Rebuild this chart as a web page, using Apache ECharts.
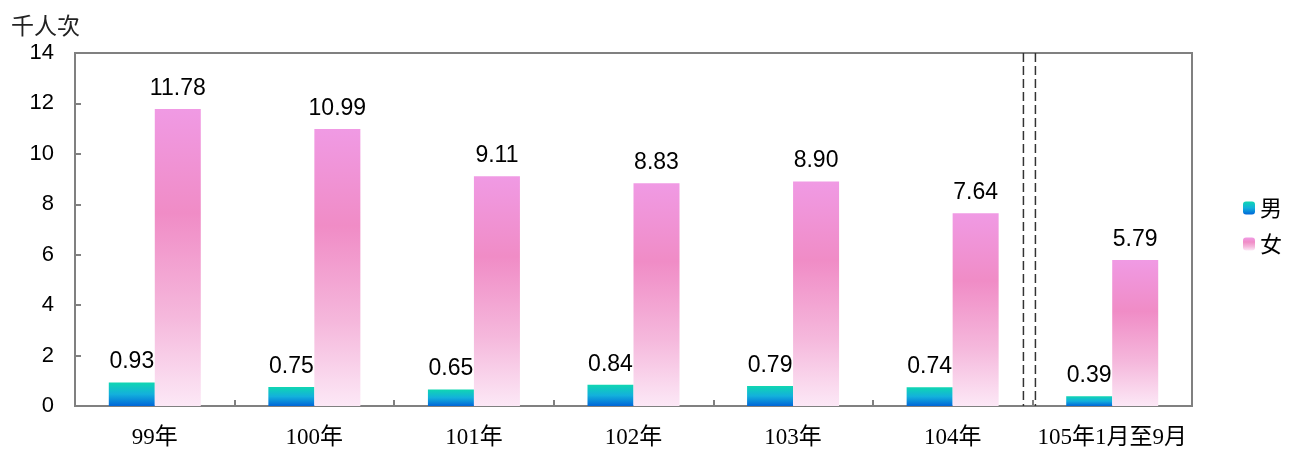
<!DOCTYPE html>
<html>
<head>
<meta charset="utf-8">
<script src="https://cdn.jsdelivr.net/npm/echarts@6/dist/echarts.min.js"></script>
<style>
html,body{margin:0;padding:0;background:#fff;}
#c{width:1290px;height:449px;}
</style>
</head>
<body>
<div id="c"></div>
<script>
const categories = ['99年','100年','101年','102年','103年','104年','105年1月至9月'];
const maleValues = [0.93, 0.75, 0.65, 0.84, 0.79, 0.74, 0.39];
const femaleValues = [11.78, 10.99, 9.11, 8.83, 8.90, 7.64, 5.79];
const seriesNames = ['男','女'];
const unitLabel = '千人次';

const chart = echarts.init(document.getElementById('c'), null, {renderer:'canvas'});

const maleGrad = new echarts.graphic.LinearGradient(0,0,0,1,[
  {offset:0,color:'#10D6B2'},
  {offset:0.5,color:'#13B0DC'},
  {offset:1,color:'#0066D8'}
]);
const femaleGrad = new echarts.graphic.LinearGradient(0,0,0,1,[
  {offset:0,color:'#F09AE4'},
  {offset:0.35,color:'#F08CC6'},
  {offset:0.7,color:'#F5B8DC'},
  {offset:1,color:'#FCE8F6'}
]);

const labelStyle = {
  show:true, position:'top', distance:9,
  fontFamily:'Liberation Sans, Arial, sans-serif', fontSize:23, color:'#000',
  formatter: p => p.value.toFixed(2)
};

chart.setOption({
  animation:false,
  title:{
    text:unitLabel, left:6, top:9,
    textStyle:{fontFamily:'Noto Sans CJK TC, sans-serif', fontSize:23, fontWeight:'normal', color:'#222'}
  },
  legend:{
    orient:'vertical', left:1238, top:192,
    itemWidth:12, itemHeight:13, itemGap:14,
    textStyle:{fontFamily:'Noto Sans CJK TC, sans-serif', fontSize:22, color:'#000'},
    data:seriesNames
  },
  grid:{
    left:75, right:98, top:53, bottom:43,
    show:true, borderColor:'#808080', borderWidth:2, backgroundColor:'transparent'
  },
  xAxis:{
    type:'category', data:categories,
    axisLine:{show:true, lineStyle:{color:'#808080', width:2}},
    axisTick:{show:true, inside:true, length:6, interval:0, lineStyle:{color:'#808080', width:2}},
    axisLabel:{interval:0, fontFamily:'Liberation Serif, Times New Roman, Noto Sans CJK TC, serif', fontSize:23, color:'#000', margin:20},
    splitLine:{show:false}
  },
  yAxis:{
    type:'value', min:0, max:14, interval:2,
    axisLine:{show:true, lineStyle:{color:'#808080', width:2}},
    axisTick:{show:true, inside:true, length:6, lineStyle:{color:'#808080', width:2}},
    axisLabel:{fontFamily:'Liberation Sans, Arial, sans-serif', fontSize:22, color:'#000', margin:21},
    splitLine:{show:false}
  },
  series:[
    {name:seriesNames[0], type:'bar', data:maleValues, barWidth:46, barGap:'0%',
     itemStyle:{color:maleGrad}, label:labelStyle},
    {name:seriesNames[1], type:'bar', data:femaleValues, barWidth:46, barGap:'0%',
     itemStyle:{color:femaleGrad}, label:labelStyle}
  ]
});

// separator dashed lines between the last two categories
const n = categories.length;
const xa = chart.convertToPixel({xAxisIndex:0}, categories[n-2]);
const xb = chart.convertToPixel({xAxisIndex:0}, categories[n-1]);
const boundary = (xa + xb) / 2;
const yTop = chart.convertToPixel({yAxisIndex:0}, 14);
const yBot = chart.convertToPixel({yAxisIndex:0}, 0);
const dashStyle = {stroke:'#333', lineWidth:1.5, lineDash:[9,4]};
chart.setOption({
  graphic:[
    {type:'line', shape:{x1:boundary-9, y1:yTop, x2:boundary-9, y2:yBot}, style:dashStyle, z:10},
    {type:'line', shape:{x1:boundary+3, y1:yTop, x2:boundary+3, y2:yBot}, style:dashStyle, z:10}
  ]
});
</script>
</body>
</html>
